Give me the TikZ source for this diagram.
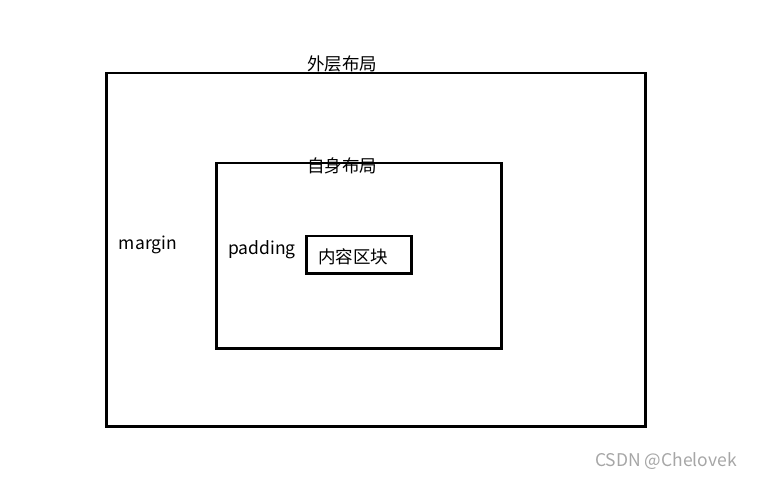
\documentclass[tikz,border=0pt]{standalone}
\usepackage{fontspec}
\setmainfont{Noto Sans CJK SC}
\begin{document}
\begin{tikzpicture}[x=1pt,y=-1pt,
  box/.style={draw=black,line width=2.5pt},
  lbl/.style={font=\fontsize{17.5}{20}\selectfont,inner sep=0pt}]
\useasboundingbox (0,0) rectangle (757,478);
\node[box,minimum width=539pt,minimum height=353pt,anchor=north west,inner sep=0pt] (outer) at (105,72) {};
\node[box,minimum width=285pt,minimum height=185pt,anchor=north west,inner sep=0pt] (self) at (215,162) {};
\node[box,minimum width=105pt,minimum height=37pt,anchor=north west,inner sep=0pt] (content) at (305,235) {};
\node[lbl] (t1) at (342,64) {外层布局};
\node[lbl] (t2) at (342,166) {自身布局};
\node[lbl] (t3) at (148,245) {margin};
\node[lbl] (t4) at (262,250) {padding};
\node[lbl] (t5) at (353,257) {内容区块};
\node[lbl,text=gray!70] (wm) at (666,461) {CSDN @Chelovek};
\end{tikzpicture}
\end{document}
